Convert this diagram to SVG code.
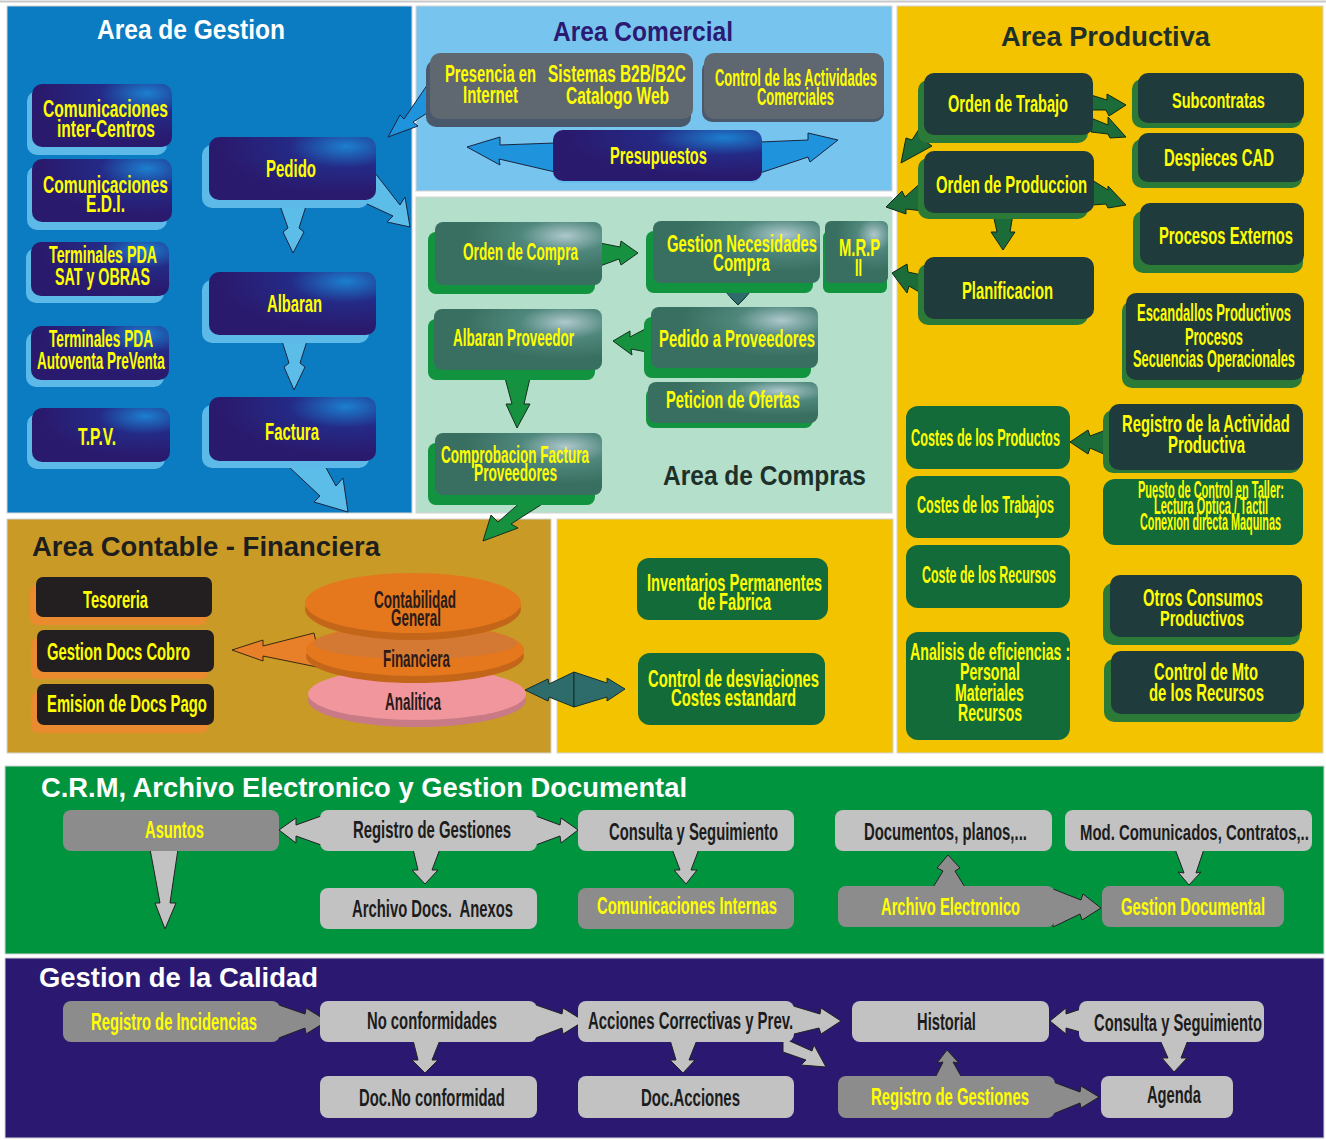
<svg xmlns="http://www.w3.org/2000/svg" width="1326" height="1140" viewBox="0 0 1326 1140">
<style>
text{font-family:"Liberation Sans",Arial,sans-serif;font-weight:bold;font-size:23px}
.y{fill:#ffff00}
.k{fill:#1c1c1c}
.b{fill:#2a1a1a}
.h{font-size:27px}
.pan{stroke:#d4d4d4;stroke-width:1}
.ab{fill:#5cbde9;stroke:#1a2440;stroke-width:1}
.ac{fill:#1f93dc;stroke:#1a2440;stroke-width:1}
.ag{fill:#15913f;stroke:#15301f;stroke-width:1}
.ap{fill:#1b6c38;stroke:#10281a;stroke-width:1}
.at{fill:#2e6b6b;stroke:#10302e;stroke-width:1}
.ao{fill:#e8802a;stroke:#3a2a10;stroke-width:1}
.al{fill:#c2c2c2;stroke:#222;stroke-width:1}
.ad{fill:#8c8c8c;stroke:#222;stroke-width:1}
.lg{fill:#c2c2c2}
.dg{fill:#8c8c8c}
.nav{fill:url(#gNav)}
.teal{fill:url(#gTeal)}
.dk{fill:#1f3b3b}
.gr{fill:#146b3a}
.shb{fill:#5cb9e8}
.shg{fill:#12933f}
.shp{fill:#2c7a38}
.sho{fill:#e98b2e}
</style>
<defs>
<radialGradient id="gNav" cx="0.82" cy="0.15" r="0.75">
<stop offset="0" stop-color="#1c7fcf"/>
<stop offset="0.45" stop-color="#242a86"/>
<stop offset="1" stop-color="#2a1a6e"/>
</radialGradient>
<radialGradient id="gTeal" cx="0.78" cy="0.22" r="0.6">
<stop offset="0" stop-color="#aec8cc"/>
<stop offset="0.45" stop-color="#4f877c"/>
<stop offset="1" stop-color="#396f60"/>
</radialGradient>
</defs>
<rect x="0" y="0" width="1326" height="1140" fill="#ffffff"/>
<line x1="0" y1="1.5" x2="1326" y2="1.5" stroke="#c8c8c8" stroke-width="2"/>
<g id="panels">
<rect class="pan" x="7" y="6" width="405" height="507" fill="#0b7cc1"/>
<rect class="pan" x="416" y="6" width="476" height="185" fill="#77c5ee"/>
<rect class="pan" x="416" y="197" width="476" height="316" fill="#b4dfca"/>
<rect class="pan" x="897" y="6" width="426" height="747" fill="#f4c300"/>
<rect class="pan" x="7" y="519" width="544" height="234" fill="#c99a25"/>
<rect class="pan" x="557" y="519" width="336" height="234" fill="#f4c300"/>
<rect class="pan" x="5" y="766" width="1319" height="188" fill="#00943f"/>
<rect class="pan" x="5" y="958" width="1319" height="180" fill="#2b1870"/>
<text class="h" x="97" y="39" fill="#ffffff" textLength="188" lengthAdjust="spacingAndGlyphs">Area de Gestion</text>
<text class="h" x="553" y="41" fill="#2a1a72" textLength="180" lengthAdjust="spacingAndGlyphs">Area Comercial</text>
<text class="h" x="663" y="485" fill="#1e302a" textLength="203" lengthAdjust="spacingAndGlyphs">Area de Compras</text>
<text class="h" x="1001" y="46" fill="#1e302a" textLength="209" lengthAdjust="spacingAndGlyphs">Area Productiva</text>
<text class="h" x="32" y="556" fill="#1e1e1e" textLength="348" lengthAdjust="spacingAndGlyphs">Area Contable - Financiera</text>
<text class="h" x="41" y="797" fill="#ffffff" textLength="646" lengthAdjust="spacingAndGlyphs">C.R.M, Archivo Electronico y Gestion Documental</text>
<text class="h" x="39" y="987" fill="#ffffff" textLength="279" lengthAdjust="spacingAndGlyphs">Gestion de la Calidad</text>
</g>
<g id="connectors">
<polygon class="ab" points="279,203 288,228 283,232 293,253 304,232 299,228 307,203"/>
<polygon class="ab" points="281,338 289,363 284,367 294,390 305,367 300,363 308,338"/>
<polygon class="ab" points="288,466 320,496 314,502 348,512 343,478 336,486 325,466"/>
<polygon class="ab" points="375,173 400,205 405,197 410,227 387,222 393,216 365,203"/>
<polygon class="ac" points="432,78 404,119 400,115 388,137 418,126 413,122 432,110"/>
<polygon class="ac" points="555,143 500,145 500,137 467,147 500,165 499,159 555,172"/>
<polygon class="ac" points="760,142 808,140 808,133 838,140 810,162 808,157 760,173"/>
<polygon class="ag" points="600,243 620,247 621,241 638,253 621,265 619,259 600,266"/>
<polygon class="at" points="726,292 750,292 744,299 738,305 732,299"/>
<polygon class="ag" points="647,328 630,337 630,331 613,341 632,355 631,349 647,352"/>
<polygon class="ag" points="505,378 512,404 506,404 517,428 530,404 524,404 530,378"/>
<polygon class="ag" points="522,501 498,522 491,515 483,541 518,528 511,524 547,501"/>
<polygon class="ap" points="1091,95 1107,100 1107,94 1126,105 1109,116 1106,110 1091,110"/>
<polygon class="ap" points="1091,118 1108,125 1108,117 1126,137 1110,138 1108,134 1091,132"/>
<polygon class="ap" points="930,112 912,140 906,138 901,163 932,146 926,142 940,125"/>
<polygon class="ap" points="924,180 905,197 902,191 886,207 906,214 906,209 924,211"/>
<polygon class="ap" points="1092,180 1108,190 1108,186 1126,205 1108,208 1106,204 1092,205"/>
<polygon class="ap" points="993,214 997,232 991,232 1003,250 1015,232 1010,232 1013,214"/>
<polygon class="ap" points="926,276 908,272 907,264 892,273 907,293 909,286 926,296"/>
<polygon class="ap" points="1106,430 1090,436 1088,430 1070,442 1088,454 1090,448 1106,455"/>
<polygon class="ao" points="314,633 263,646 263,640 232,650 263,661 263,656 322,668"/>
<polygon class="at" points="525,690 548,679 549,684 574,672 574,707 549,697 548,701"/>
<polygon class="at" points="574,672 607,683 607,678 625,689 607,701 607,697 574,707"/>
<polygon class="al" points="324,815 296,825 296,818 279,830 296,843 296,836 324,846"/>
<polygon class="al" points="533,815 560,825 561,818 578,830 561,843 560,836 533,846"/>
<polygon class="al" points="413,849 440,849 432,870 438,870 425,884 412,870 418,870"/>
<polygon class="al" points="672,849 699,849 691,870 697,870 686,884 674,870 680,870"/>
<polygon class="al" points="150,849 178,849 170,903 176,903 165,929 155,903 160,903"/>
<polygon class="ad" points="932,889 943,871 937,868 948,855 960,868 955,871 966,889"/>
<polygon class="ad" points="1053,889 1081,900 1083,894 1101,908 1082,920 1080,914 1053,927"/>
<polygon class="al" points="1175,849 1184,873 1178,872 1189,885 1201,872 1196,873 1204,849"/>
<polygon class="ad" points="276,1004 305,1014 306,1008 327,1021 306,1034 305,1028 276,1039"/>
<polygon class="al" points="533,1004 562,1014 563,1008 584,1021 563,1034 562,1028 533,1039"/>
<polygon class="al" points="790,1005 820,1014 821,1008 841,1021 821,1034 819,1028 790,1035"/>
<polygon class="al" points="783,1038 812,1051 814,1045 826,1067 801,1065 806,1060 783,1052"/>
<polygon class="al" points="413,1040 440,1040 432,1060 438,1060 425,1073 412,1060 418,1060"/>
<polygon class="al" points="670,1040 697,1040 689,1060 695,1060 683,1073 670,1060 676,1060"/>
<polygon class="al" points="1084,1008 1066,1014 1066,1008 1050,1021 1066,1034 1066,1028 1084,1033"/>
<polygon class="al" points="1160,1040 1188,1040 1181,1058 1187,1058 1174,1072 1162,1058 1168,1058"/>
<polygon class="ad" points="935,1078 943,1062 937,1063 947,1050 959,1063 953,1062 962,1078"/>
<polygon class="ad" points="1053,1082 1080,1092 1081,1086 1099,1097 1081,1108 1080,1103 1053,1114"/>
</g>
<g id="n-com-inter"><rect class="shb" x="27" y="91" width="140" height="64" rx="10"/><rect class="nav" x="32" y="84" width="140" height="63" rx="10"/>
<text class="y" transform="translate(43,117) scale(0.651,1)" font-size="24" textLength="192" lengthAdjust="spacingAndGlyphs">Comunicaciones</text>
<text class="y" transform="translate(57,137) scale(0.65,1)" font-size="24" textLength="150.7" lengthAdjust="spacingAndGlyphs">inter-Centros</text></g>
<g id="n-com-edi"><rect class="shb" x="27" y="166" width="140" height="64" rx="10"/><rect class="nav" x="32" y="159" width="140" height="63" rx="10"/>
<text class="y" transform="translate(43,193) scale(0.651,1)" font-size="24" textLength="192" lengthAdjust="spacingAndGlyphs">Comunicaciones</text>
<text class="y" transform="translate(86,212) scale(0.65,1)" font-size="24" textLength="60" lengthAdjust="spacingAndGlyphs">E.D.I.</text></g>
<g id="n-pda-sat"><rect class="shb" x="26" y="248" width="138" height="55" rx="10"/><rect class="nav" x="31" y="242" width="138" height="54" rx="10"/>
<text class="y" transform="translate(49,263) scale(0.64,1)" font-size="22" textLength="168.7" lengthAdjust="spacingAndGlyphs">Terminales PDA</text>
<text class="y" transform="translate(55,285) scale(0.642,1)" font-size="22" textLength="147.9" lengthAdjust="spacingAndGlyphs">SAT y OBRAS</text></g>
<g id="n-pda-auto"><rect class="shb" x="26" y="332" width="138" height="55" rx="10"/><rect class="nav" x="31" y="326" width="138" height="54" rx="10"/>
<text class="y" transform="translate(49,347) scale(0.617,1)" font-size="22" textLength="168.7" lengthAdjust="spacingAndGlyphs">Terminales PDA</text>
<text class="y" transform="translate(37,369) scale(0.612,1)" font-size="22" textLength="209" lengthAdjust="spacingAndGlyphs">Autoventa PreVenta</text></g>
<g id="n-tpv"><rect class="shb" x="27" y="414" width="138" height="55" rx="10"/><rect class="nav" x="32" y="408" width="138" height="54" rx="10"/>
<text class="y" transform="translate(78,445) scale(0.57,1)" font-size="24" textLength="66.7" lengthAdjust="spacingAndGlyphs">T.P.V.</text></g>
<g id="n-pedido"><rect class="shb" x="202" y="145" width="167" height="63" rx="10"/><rect class="nav" x="209" y="137" width="167" height="63" rx="10"/>
<text class="y" transform="translate(266,177) scale(0.6,1)" font-size="25" textLength="83.4" lengthAdjust="spacingAndGlyphs">Pedido</text></g>
<g id="n-albaran"><rect class="shb" x="202" y="280" width="167" height="63" rx="10"/><rect class="nav" x="209" y="272" width="167" height="63" rx="10"/>
<text class="y" transform="translate(267,312) scale(0.591,1)" font-size="25" textLength="93.1" lengthAdjust="spacingAndGlyphs">Albaran</text></g>
<g id="n-factura"><rect class="shb" x="202" y="405" width="167" height="63" rx="10"/><rect class="nav" x="209" y="397" width="167" height="64" rx="10"/>
<text class="y" transform="translate(265,440) scale(0.598,1)" font-size="25" textLength="90.3" lengthAdjust="spacingAndGlyphs">Factura</text></g>
<g id="n-presencia"><rect x="426" y="60" width="265" height="67" rx="10" fill="#4a586c"/><rect x="430" y="53" width="263" height="66" rx="10" fill="#5f6770"/>
<text class="y" transform="translate(445,82) scale(0.671,1)" font-size="22" textLength="135.7" lengthAdjust="spacingAndGlyphs">Presencia en</text>
<text class="y" transform="translate(463,103) scale(0.682,1)" font-size="22" textLength="80.7" lengthAdjust="spacingAndGlyphs">Internet</text>
<text class="y" transform="translate(548,82) scale(0.701,1)" font-size="22" textLength="196.8" lengthAdjust="spacingAndGlyphs">Sistemas B2B/B2C</text>
<text class="y" transform="translate(566,104) scale(0.702,1)" font-size="22" textLength="146.7" lengthAdjust="spacingAndGlyphs">Catalogo Web</text></g>
<g id="n-control-act"><rect x="702" y="60" width="182" height="62" rx="10" fill="#4a586c"/><rect x="704" y="53" width="180" height="66" rx="10" fill="#5f6770"/>
<text class="y" transform="translate(715,86) scale(0.614,1)" font-size="21" textLength="263.7" lengthAdjust="spacingAndGlyphs">Control de las Actividades</text>
<text class="y" transform="translate(757,105) scale(0.616,1)" font-size="21" textLength="124.9" lengthAdjust="spacingAndGlyphs">Comerciales</text></g>
<g id="n-presupuestos"><rect x="553" y="136" width="209" height="47" rx="10" fill="#5cb9e8" opacity="0.6"/><rect class="nav" x="553" y="130" width="209" height="51" rx="10"/>
<text class="y" transform="translate(610,164) scale(0.611,1)" font-size="24" textLength="158.7" lengthAdjust="spacingAndGlyphs">Presupuestos</text></g>
<g id="n-orden-compra"><rect class="shg" x="428" y="232" width="167" height="62" rx="8"/><rect class="teal" x="435" y="222" width="167" height="63" rx="8"/>
<text class="y" transform="translate(463,260) scale(0.619,1)" font-size="22" textLength="185.8" lengthAdjust="spacingAndGlyphs">Orden de Compra</text></g>
<g id="n-gestion-nec"><rect class="shg" x="646" y="231" width="167" height="62" rx="8"/><rect class="teal" x="653" y="221" width="167" height="62" rx="8"/>
<text class="y" transform="translate(667,252) scale(0.674,1)" font-size="22" textLength="222.5" lengthAdjust="spacingAndGlyphs">Gestion Necesidades</text>
<text class="y" transform="translate(713,271) scale(0.686,1)" font-size="22" textLength="83.1" lengthAdjust="spacingAndGlyphs">Compra</text></g>
<g id="n-mrp"><rect class="shg" x="823" y="231" width="64" height="62" rx="6"/><rect class="teal" x="825" y="221" width="63" height="62" rx="6"/>
<text class="y" transform="translate(839,256) scale(0.671,1)" font-size="22" textLength="61.1" lengthAdjust="spacingAndGlyphs">M.R.P</text>
<text class="y" transform="translate(855,276) scale(0.574,1)" font-size="22" textLength="12.2" lengthAdjust="spacingAndGlyphs">II</text></g>
<g id="n-pedido-prov"><rect class="shg" x="644" y="317" width="167" height="61" rx="8"/><rect class="teal" x="651" y="307" width="167" height="61" rx="8"/>
<text class="y" transform="translate(659,347) scale(0.646,1)" font-size="23" textLength="241.6" lengthAdjust="spacingAndGlyphs">Pedido a Proveedores</text></g>
<g id="n-albaran-prov"><rect class="shg" x="428" y="319" width="167" height="61" rx="8"/><rect class="teal" x="434" y="309" width="168" height="61" rx="8"/>
<text class="y" transform="translate(453,346) scale(0.615,1)" font-size="22" textLength="196.8" lengthAdjust="spacingAndGlyphs">Albaran Proveedor</text></g>
<g id="n-peticion"><rect class="shg" x="646" y="388" width="167" height="40" rx="8"/><rect class="teal" x="648" y="382" width="170" height="41" rx="8"/>
<text class="y" transform="translate(666,408) scale(0.639,1)" font-size="23" textLength="209.6" lengthAdjust="spacingAndGlyphs">Peticion de Ofertas</text></g>
<g id="n-comprobacion"><rect class="shg" x="428" y="443" width="167" height="62" rx="8"/><rect class="teal" x="435" y="433" width="167" height="62" rx="8"/>
<text class="y" transform="translate(441,463) scale(0.615,1)" font-size="22" textLength="240.8" lengthAdjust="spacingAndGlyphs">Comprobacion Factura</text>
<text class="y" transform="translate(474,481) scale(0.623,1)" font-size="22" textLength="133.3" lengthAdjust="spacingAndGlyphs">Proveedores</text></g>
<g id="n-orden-trabajo"><rect class="shp" x="918" y="80" width="170" height="63" rx="10"/><rect class="dk" x="924" y="73" width="169" height="62" rx="10"/>
<text class="y" transform="translate(948,112) scale(0.604,1)" font-size="24" textLength="198.7" lengthAdjust="spacingAndGlyphs">Orden de Trabajo</text></g>
<g id="n-orden-prod"><rect class="shp" x="918" y="158" width="170" height="61" rx="10"/><rect class="dk" x="924" y="151" width="170" height="62" rx="10"/>
<text class="y" transform="translate(936,193) scale(0.619,1)" font-size="24" textLength="244.1" lengthAdjust="spacingAndGlyphs">Orden de Produccion</text></g>
<g id="n-planificacion"><rect class="shp" x="918" y="264" width="170" height="61" rx="10"/><rect class="dk" x="924" y="257" width="170" height="62" rx="10"/>
<text class="y" transform="translate(962,299) scale(0.615,1)" font-size="24" textLength="148.1" lengthAdjust="spacingAndGlyphs">Planificacion</text></g>
<g id="n-subcontratas"><rect class="shp" x="1132" y="79" width="170" height="49" rx="10"/><rect class="dk" x="1138" y="73" width="166" height="50" rx="10"/>
<text class="y" transform="translate(1172,108) scale(0.606,1)" font-size="24" textLength="153.4" lengthAdjust="spacingAndGlyphs">Subcontratas</text></g>
<g id="n-despieces"><rect class="shp" x="1132" y="139" width="170" height="49" rx="10"/><rect class="dk" x="1138" y="133" width="166" height="49" rx="10"/>
<text class="y" transform="translate(1164,166) scale(0.62,1)" font-size="24" textLength="177.4" lengthAdjust="spacingAndGlyphs">Despieces CAD</text></g>
<g id="n-procesos-ext"><rect class="shp" x="1133" y="211" width="170" height="62" rx="10"/><rect class="dk" x="1140" y="203" width="164" height="62" rx="10"/>
<text class="y" transform="translate(1159,244) scale(0.616,1)" font-size="24" textLength="217.4" lengthAdjust="spacingAndGlyphs">Procesos Externos</text></g>
<g id="n-escandallos"><rect class="shp" x="1122" y="301" width="180" height="87" rx="10"/><rect class="dk" x="1126" y="293" width="178" height="87" rx="10"/>
<text class="y" transform="translate(1137,321) scale(0.589,1)" font-size="22" textLength="261.6" lengthAdjust="spacingAndGlyphs">Escandallos Productivos</text>
<text class="y" transform="translate(1185,345) scale(0.586,1)" font-size="22" textLength="99" lengthAdjust="spacingAndGlyphs">Procesos</text>
<text class="y" transform="translate(1133,367) scale(0.581,1)" font-size="22" textLength="278.8" lengthAdjust="spacingAndGlyphs">Secuencias Operacionales</text></g>
<g id="n-costes-prod"><rect class="gr" x="906" y="406" width="164" height="63" rx="12"/>
<text class="y" transform="translate(911,446) scale(0.605,1)" font-size="21" textLength="246.2" lengthAdjust="spacingAndGlyphs">Costes de los Productos</text></g>
<g id="n-registro-act"><rect class="shp" x="1103" y="410" width="198" height="63" rx="10"/><rect class="dk" x="1109" y="404" width="194" height="66" rx="10"/>
<text class="y" transform="translate(1122,432) scale(0.614,1)" font-size="24" textLength="273.4" lengthAdjust="spacingAndGlyphs">Registro de la Actividad</text>
<text class="y" transform="translate(1168,453) scale(0.621,1)" font-size="24" textLength="124" lengthAdjust="spacingAndGlyphs">Productiva</text></g>
<g id="n-costes-trab"><rect class="gr" x="906" y="476" width="164" height="62" rx="12"/>
<text class="y" transform="translate(917,513) scale(0.596,1)" font-size="21" textLength="229.9" lengthAdjust="spacingAndGlyphs">Costes de los Trabajos</text></g>
<g id="n-puesto"><rect class="gr" x="1103" y="479" width="200" height="66" rx="12"/>
<text class="y" transform="translate(1138,498) scale(0.644,1)" font-size="17" textLength="226.7" lengthAdjust="spacingAndGlyphs">Puesto de Control en Taller:</text>
<text class="y" transform="translate(1154,514) scale(0.642,1)" font-size="17" textLength="177.6" lengthAdjust="spacingAndGlyphs">Lectura Optica / Tactil</text>
<text class="y" transform="translate(1140,530) scale(0.638,1)" font-size="17" textLength="221.1" lengthAdjust="spacingAndGlyphs">Conexion directa Maquinas</text></g>
<g id="n-coste-rec"><rect class="gr" x="906" y="545" width="164" height="63" rx="12"/>
<text class="y" transform="translate(922,583) scale(0.592,1)" font-size="21" textLength="226.4" lengthAdjust="spacingAndGlyphs">Coste de los Recursos</text></g>
<g id="n-otros"><rect class="shp" x="1103" y="583" width="197" height="62" rx="10"/><rect class="dk" x="1110" y="575" width="192" height="62" rx="10"/>
<text class="y" transform="translate(1143,606) scale(0.616,1)" font-size="24" textLength="194.7" lengthAdjust="spacingAndGlyphs">Otros Consumos</text>
<text class="y" transform="translate(1160,626) scale(0.606,1)" font-size="24" textLength="138.7" lengthAdjust="spacingAndGlyphs">Productivos</text></g>
<g id="n-analisis"><rect class="gr" x="906" y="632" width="164" height="108" rx="12"/>
<text class="y" transform="translate(910,660) scale(0.617,1)" font-size="23" textLength="259.5" lengthAdjust="spacingAndGlyphs">Analisis de eficiencias :</text>
<text class="y" transform="translate(960,680) scale(0.617,1)" font-size="23" textLength="97.2" lengthAdjust="spacingAndGlyphs">Personal</text>
<text class="y" transform="translate(955,701) scale(0.613,1)" font-size="23" textLength="112.5" lengthAdjust="spacingAndGlyphs">Materiales</text>
<text class="y" transform="translate(958,721) scale(0.611,1)" font-size="23" textLength="104.8" lengthAdjust="spacingAndGlyphs">Recursos</text></g>
<g id="n-control-mto"><rect class="shp" x="1104" y="659" width="197" height="63" rx="10"/><rect class="dk" x="1111" y="651" width="193" height="63" rx="10"/>
<text class="y" transform="translate(1154,680) scale(0.614,1)" font-size="24" textLength="169.3" lengthAdjust="spacingAndGlyphs">Control de Mto</text>
<text class="y" transform="translate(1149,701) scale(0.62,1)" font-size="24" textLength="185.4" lengthAdjust="spacingAndGlyphs">de los Recursos</text></g>
<g id="n-tesoreria"><rect class="sho" x="30" y="585" width="177" height="40" rx="7"/><rect x="36" y="577" width="176" height="40" rx="7" fill="#231f20"/>
<text class="y" transform="translate(83,608) scale(0.628,1)" font-size="23" textLength="103.5" lengthAdjust="spacingAndGlyphs">Tesoreria</text></g>
<g id="n-docs-cobro"><rect class="sho" x="31" y="638" width="177" height="41" rx="7"/><rect x="37" y="630" width="177" height="42" rx="7" fill="#231f20"/>
<text class="y" transform="translate(47,660) scale(0.616,1)" font-size="24" textLength="232" lengthAdjust="spacingAndGlyphs">Gestion Docs Cobro</text></g>
<g id="n-docs-pago"><rect class="sho" x="31" y="692" width="177" height="41" rx="7"/><rect x="37" y="684" width="177" height="41" rx="7" fill="#231f20"/>
<text class="y" transform="translate(47,712) scale(0.618,1)" font-size="24" textLength="258.7" lengthAdjust="spacingAndGlyphs">Emision de Docs Pago</text></g>
<g id="n-analitica"><ellipse cx="417" cy="700" rx="109" ry="27" fill="#c87a86"/><ellipse cx="417" cy="694" rx="109" ry="26" fill="#f0969c"/>
<text class="b" transform="translate(385,710) scale(0.611,1)" font-size="22" textLength="91.7" lengthAdjust="spacingAndGlyphs">Analitica</text></g>
<g id="n-financiera"><ellipse cx="415" cy="656" rx="109" ry="27" fill="#c4661a"/><ellipse cx="415" cy="650" rx="109" ry="26" fill="#e5781c"/><ellipse cx="415" cy="643" rx="102" ry="16" fill="#c47a4a" opacity="0.5"/>
<text class="b" transform="translate(383,667) scale(0.609,1)" font-size="22" textLength="110" lengthAdjust="spacingAndGlyphs">Financiera</text></g>
<g id="n-contabilidad"><ellipse cx="413" cy="609" rx="108" ry="31" fill="#c4661a"/><ellipse cx="413" cy="603" rx="108" ry="30" fill="#e5781c"/>
<text class="b" transform="translate(374,608) scale(0.616,1)" font-size="22" textLength="133.2" lengthAdjust="spacingAndGlyphs">Contabilidad</text>
<text class="b" transform="translate(391,626) scale(0.61,1)" font-size="22" textLength="81.9" lengthAdjust="spacingAndGlyphs">General</text></g>
<g id="n-inventarios"><rect class="gr" x="637" y="558" width="191" height="62" rx="12"/>
<text class="y" transform="translate(647,591) scale(0.64,1)" font-size="23" textLength="273.5" lengthAdjust="spacingAndGlyphs">Inventarios Permanentes</text>
<text class="y" transform="translate(698,610) scale(0.635,1)" font-size="23" textLength="115" lengthAdjust="spacingAndGlyphs">de Fabrica</text></g>
<g id="n-desviaciones"><rect class="gr" x="638" y="653" width="187" height="72" rx="12"/>
<text class="y" transform="translate(648,687) scale(0.592,1)" font-size="25" textLength="289" lengthAdjust="spacingAndGlyphs">Control de desviaciones</text>
<text class="y" transform="translate(671,706) scale(0.596,1)" font-size="25" textLength="209.8" lengthAdjust="spacingAndGlyphs">Costes estandard</text></g>
<g id="n-asuntos"><rect class="dg" x="63" y="810" width="216" height="41" rx="8"/>
<text class="y" transform="translate(145,838) scale(0.67,1)" font-size="22" textLength="88" lengthAdjust="spacingAndGlyphs">Asuntos</text></g>
<g id="n-registro-gest"><rect class="lg" x="320" y="810" width="217" height="41" rx="8"/>
<text class="k" transform="translate(353,838) scale(0.647,1)" textLength="244.1" lengthAdjust="spacingAndGlyphs">Registro de Gestiones</text></g>
<g id="n-consulta"><rect class="lg" x="578" y="810" width="216" height="41" rx="8"/>
<text class="k" transform="translate(609,840) scale(0.645,1)" textLength="262" lengthAdjust="spacingAndGlyphs">Consulta y Seguimiento</text></g>
<g id="n-archivo-docs"><rect class="lg" x="320" y="888" width="217" height="41" rx="8"/>
<text class="k" transform="translate(352,917) scale(0.643,1)" textLength="250.5" lengthAdjust="spacingAndGlyphs" xml:space="preserve">Archivo Docs.  Anexos</text></g>
<g id="n-com-internas"><rect class="dg" x="578" y="888" width="216" height="41" rx="8"/>
<text class="y" transform="translate(597,914) scale(0.643,1)" textLength="279.9" lengthAdjust="spacingAndGlyphs">Comunicaciones Internas</text></g>
<g id="n-documentos"><rect class="lg" x="835" y="810" width="217" height="41" rx="8"/>
<text class="k" transform="translate(864,840) scale(0.647,1)" textLength="251.8" lengthAdjust="spacingAndGlyphs">Documentos, planos,...</text></g>
<g id="n-mod"><rect class="lg" x="1065" y="810" width="247" height="41" rx="8"/>
<text class="k" transform="translate(1080,840) scale(0.649,1)" textLength="352.7" lengthAdjust="spacingAndGlyphs">Mod. Comunicados, Contratos,..</text></g>
<g id="n-archivo-elec"><rect class="dg" x="838" y="886" width="217" height="41" rx="8"/>
<text class="y" transform="translate(881,915) scale(0.64,1)" textLength="217.3" lengthAdjust="spacingAndGlyphs">Archivo Electronico</text></g>
<g id="n-gestion-doc"><rect class="dg" x="1102" y="886" width="182" height="41" rx="8"/>
<text class="y" transform="translate(1121,915) scale(0.644,1)" textLength="223.7" lengthAdjust="spacingAndGlyphs">Gestion Documental</text></g>
<g id="n-registro-inc"><rect class="dg" x="63" y="1001" width="217" height="41" rx="8"/>
<text class="y" transform="translate(91,1030) scale(0.643,1)" textLength="258.2" lengthAdjust="spacingAndGlyphs">Registro de Incidencias</text></g>
<g id="n-no-conf"><rect class="lg" x="320" y="1001" width="217" height="41" rx="8"/>
<text class="k" transform="translate(367,1029) scale(0.644,1)" textLength="201.9" lengthAdjust="spacingAndGlyphs">No conformidades</text></g>
<g id="n-acciones"><rect class="lg" x="578" y="1001" width="216" height="41" rx="8"/>
<text class="k" transform="translate(588,1029) scale(0.647,1)" textLength="317" lengthAdjust="spacingAndGlyphs">Acciones Correctivas y Prev.</text></g>
<g id="n-doc-noconf"><rect class="lg" x="320" y="1076" width="217" height="42" rx="8"/>
<text class="k" transform="translate(359,1106) scale(0.645,1)" textLength="226.2" lengthAdjust="spacingAndGlyphs">Doc.No conformidad</text></g>
<g id="n-doc-acciones"><rect class="lg" x="578" y="1076" width="216" height="42" rx="8"/>
<text class="k" transform="translate(641,1106) scale(0.651,1)" textLength="152.1" lengthAdjust="spacingAndGlyphs">Doc.Acciones</text></g>
<g id="n-historial"><rect class="lg" x="852" y="1001" width="197" height="41" rx="8"/>
<text class="k" transform="translate(917,1030) scale(0.641,1)" textLength="92" lengthAdjust="spacingAndGlyphs">Historial</text></g>
<g id="n-consulta2"><rect class="lg" x="1079" y="1001" width="185" height="41" rx="8"/>
<text class="k" transform="translate(1094,1031) scale(0.641,1)" textLength="262" lengthAdjust="spacingAndGlyphs">Consulta y Seguimiento</text></g>
<g id="n-registro-gest2"><rect class="dg" x="838" y="1076" width="217" height="42" rx="8"/>
<text class="y" transform="translate(871,1105) scale(0.647,1)" textLength="244.1" lengthAdjust="spacingAndGlyphs">Registro de Gestiones</text></g>
<g id="n-agenda"><rect class="lg" x="1101" y="1076" width="132" height="42" rx="8"/>
<text class="k" transform="translate(1147,1103) scale(0.64,1)" textLength="84.3" lengthAdjust="spacingAndGlyphs">Agenda</text></g>
</svg>
